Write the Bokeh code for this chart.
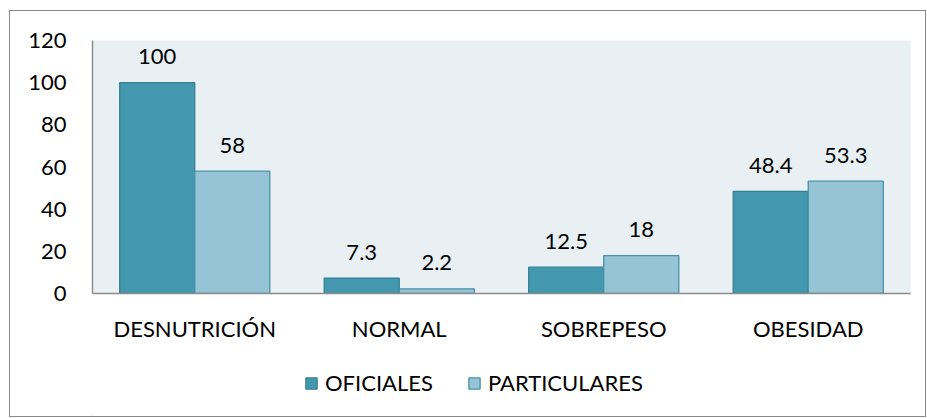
from bokeh.plotting import figure
from bokeh.layouts import column
from bokeh.models import ColumnDataSource, FactorRange, Range1d, FixedTicker, Legend, LegendItem
from bokeh.transform import dodge
from bokeh.core.properties import value
from bokeh.embed import file_html
from bokeh.resources import INLINE

categories = ["DESNUTRICIÓN", "NORMAL", "SOBREPESO", "OBESIDAD"]
oficiales = [100, 7.3, 12.5, 48.4]
particulares = [58, 2.2, 18, 53.3]
y_ticks = [0, 20, 40, 60, 80, 100, 120]
series_names = ["OFICIALES", "PARTICULARES"]

FONT = "Lato"
FS = "22px"
C_OF, C_OF_L = "#4397AE", "#357F94"
C_PA, C_PA_L = "#94C4D5", "#4A8FA6"

src = ColumnDataSource(dict(
    cat=categories,
    of=oficiales,
    pa=particulares,
    of_lab=[f"{v:g}" for v in oficiales],
    pa_lab=[f"{v:g}" for v in particulares],
))

W = 915
p = figure(x_range=FactorRange(*categories, range_padding=0), y_range=Range1d(0, 120),
           width=W, height=344, output_backend="svg", toolbar_location=None,
           min_border_left=82, min_border_top=29, min_border_right=15, min_border_bottom=62)
p.background_fill_color = "#E9F0F4"
p.border_fill_color = "white"
p.outline_line_color = None
p.grid.grid_line_color = None

bw = 0.367
r1 = p.vbar(x=dodge("cat", -bw / 2, range=p.x_range), top="of", width=bw, source=src,
            fill_color=C_OF, line_color=C_OF_L, line_width=1.3)
r2 = p.vbar(x=dodge("cat", bw / 2, range=p.x_range), top="pa", width=bw, source=src,
            fill_color=C_PA, line_color=C_PA_L, line_width=1.3)

p.text(x=dodge("cat", -bw / 2, range=p.x_range), y="of", text="of_lab", source=src,
       text_align="center", text_baseline="middle", y_offset=-26,
       text_font=value(FONT), text_font_size=FS, text_color="black")
p.text(x=dodge("cat", bw / 2, range=p.x_range), y="pa", text="pa_lab", source=src,
       text_align="center", text_baseline="middle", y_offset=-26,
       text_font=value(FONT), text_font_size=FS, text_color="black")

p.yaxis.ticker = FixedTicker(ticks=y_ticks)
for ax in (p.xaxis[0], p.yaxis[0]):
    ax.axis_line_color = "#8c8c8c"
    ax.axis_line_width = 1.5
    ax.major_tick_line_color = None
    ax.minor_tick_line_color = None
    ax.major_tick_out = 0
    ax.major_tick_in = 0
    ax.major_label_text_font = FONT
    ax.major_label_text_font_size = FS
    ax.major_label_text_color = "black"
p.yaxis.major_label_standoff = 26
p.xaxis.major_label_standoff = 21

# legend strip below the chart (legend renderers sit outside the visible range)
p2 = figure(width=W, height=61, output_backend="svg", toolbar_location=None,
            x_axis_type=None, y_axis_type=None,
            min_border_left=0, min_border_right=0, min_border_top=0, min_border_bottom=0,
            x_range=Range1d(0, 1), y_range=Range1d(0, 1))
p2.outline_line_color = None
p2.grid.grid_line_color = None
p2.background_fill_color = "white"
p2.border_fill_color = "white"
hidden = ColumnDataSource(dict(x=[-1000], top=[-1000]))
l1 = p2.vbar(x="x", top="top", width=0.1, source=hidden, fill_color=C_OF, line_color=C_OF_L, line_width=1.3)
l2 = p2.vbar(x="x", top="top", width=0.1, source=hidden, fill_color=C_PA, line_color=C_PA_L, line_width=1.3)
legend = Legend(items=[LegendItem(label=series_names[0], renderers=[l1]),
                       LegendItem(label=series_names[1], renderers=[l2])],
                orientation="horizontal", location=(212, 20),
                glyph_width=14, glyph_height=14, spacing=34, label_standoff=7,
                label_text_font=FONT, label_text_font_size=FS, label_text_color="black",
                border_line_color=None, background_fill_alpha=0, margin=0, padding=4)
p2.add_layout(legend, "center")

layout = column(p, p2, spacing=0)
layout.styles = {"border": "1px solid #8a8a8a", "margin-left": "9px", "margin-top": "10px"}

open("out.html", "w").write(file_html(layout, INLINE))
